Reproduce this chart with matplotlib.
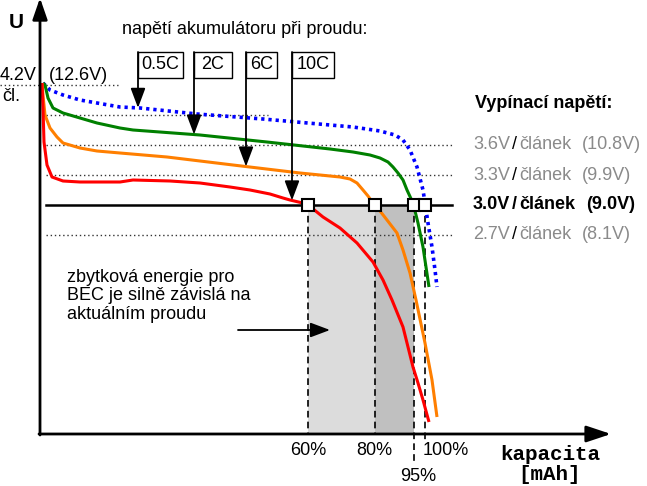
import numpy as np
import matplotlib
matplotlib.use("Agg")
import matplotlib.pyplot as plt
from matplotlib.patches import Rectangle

plt.rcParams['font.family'] = ['Liberation Sans', 'DejaVu Sans']

# schematic capacity position (x) and cell voltage (V)
blue_x = [43, 50, 63, 80, 97, 120, 140, 197, 263, 330, 353, 380, 395, 403, 410, 417, 423, 425, 428, 432, 435, 437]
blue_v = [4.22, 4.15, 4.10, 4.05, 4.02, 3.98, 3.97, 3.91, 3.86, 3.80, 3.78, 3.74, 3.70, 3.65, 3.55, 3.38,
          3.15, 3.02, 2.82, 2.58, 2.35, 2.18]
green_x = [43, 45, 48, 53, 63, 80, 97, 120, 133, 200, 267, 330, 353, 370, 380, 388, 393, 398, 403, 407,
           413, 418, 423, 429]
green_v = [4.22, 4.20, 4.07, 3.97, 3.92, 3.87, 3.82, 3.77, 3.75, 3.70, 3.63, 3.56, 3.53, 3.50, 3.47, 3.43,
           3.38, 3.32, 3.25, 3.15, 3.02, 2.82, 2.58, 2.18]
orange_x = [42, 43, 45, 50, 57, 63, 80, 97, 120, 167, 233, 300, 320, 340, 350, 357, 363, 368, 373, 380,
            387, 397, 403, 410, 416, 425, 432, 437]
orange_v = [4.22, 4.10, 3.90, 3.77, 3.68, 3.62, 3.57, 3.54, 3.52, 3.48, 3.40, 3.32, 3.30, 3.28, 3.26, 3.22,
            3.15, 3.09, 3.02, 2.94, 2.85, 2.72, 2.55, 2.32, 2.05, 1.62, 1.25, 0.88]
red_x = [42, 43, 44, 47, 52, 63, 80, 97, 120, 133, 170, 200, 230, 250, 270, 283, 290, 307, 323, 340, 357,
         373, 383, 392, 403, 408, 413, 418, 423, 429]
red_v = [4.22, 3.97, 3.63, 3.40, 3.28, 3.24, 3.23, 3.23, 3.23, 3.25, 3.24, 3.22, 3.18, 3.15, 3.11, 3.07,
         3.05, 3.01, 2.88, 2.77, 2.62, 2.43, 2.25, 2.05, 1.78, 1.58, 1.38, 1.22, 1.05, 0.83]

rates = ['0.5C', '2C', '6C', '10C']
rate_arrow_x = [138, 194, 246, 292]
cutoff_v = [3.6, 3.3, 3.0, 2.7]
cutoff_pack = ['(10.8V)', '(9.9V)', '(9.0V)', '(8.1V)']
pct_labels = ['60%', '80%', '95%', '100%']

curves = [(blue_x, blue_v, '#0000ff'), (green_x, green_v, '#008000'),
          (orange_x, orange_v, '#ff7f00'), (red_x, red_v, '#ff0000')]

fig = plt.figure(figsize=(6.47, 4.86), dpi=100)
ax = fig.add_axes([0, 0, 1, 1])
ax.set_xlim(0, 647)
ax.set_ylim(0.19, 5.05)
ax.axis('off')

gray = '#8a8a8a'
dot = (0, (1, 2))
fs = 13


def cross_x(xs, vs, level=3.0):
    # x where a falling curve passes the cut-off voltage
    return float(np.interp(-level, -np.array(vs), xs))


cross = [cross_x(x, v) for x, v, c in curves[::-1]]  # red, orange, green, blue

# shaded remaining-energy areas
ax.fill_between([cross[0], cross[1]], 3.0, 0.71, color='#dcdcdc', lw=0, zorder=1)
ax.fill_between([cross[1], cross[2]], 3.0, 0.71, color='#c0c0c0', lw=0, zorder=1)

# horizontal guide lines
ax.plot([0, 118], [4.2, 4.2], color='#333333', lw=1, ls=dot, zorder=2)
ax.plot([46, 268], [3.9, 3.9], color='#333333', lw=1, ls=dot, zorder=2)
for v in [3.6, 3.3, 2.7]:
    ax.plot([46, 452], [v, v], color='#333333', lw=1, ls=dot, zorder=2)
ax.plot([46, 452], [3.0, 3.0], color='black', lw=1.8, zorder=4)

# dashed verticals
ends = [0.71, 0.71, 0.43, 0.62]
for xc, e in zip(cross, ends):
    ax.plot([xc, xc], [3.0, e], color='black', lw=1.2, ls=(0, (4, 2.5)), zorder=3)

# discharge curves
for xs, vs, c in curves:
    if c == '#0000ff':
        ax.plot(xs, vs, color=c, lw=2.6, ls=(0, (0.9, 1.1)), zorder=5)
    else:
        ax.plot(xs, vs, color=c, lw=2.2, zorder=5, solid_capstyle='butt')

ax.plot(cross, [3.0] * 4, ls='none', marker='s', ms=8, mfc='white', mec='black', mew=1.5, zorder=6)

# axes with arrows
ax.annotate('', xy=(611, 0.71), xytext=(39, 0.71), annotation_clip=False,
            arrowprops=dict(arrowstyle='-|>,head_length=1.5,head_width=0.5', color='black', lw=2,
                            shrinkA=0, shrinkB=0), zorder=7)
ax.annotate('', xy=(40, 5.07), xytext=(40, 0.70), annotation_clip=False,
            arrowprops=dict(arrowstyle='-|>,head_length=1.3,head_width=0.45', color='black', lw=2,
                            shrinkA=0, shrinkB=0), zorder=7)

# current boxes with pointer arrows
box_w = [45, 38, 31, 42]
for name, xa, w, (xs, vs, c) in zip(rates, rate_arrow_x, box_w, curves):
    ax.add_patch(Rectangle((xa, 4.27), w, 0.26, fill=True, fc='white', ec='black', lw=1, zorder=7))
    ax.text(xa + w / 2, 4.40, name, ha='center', va='center', fontsize=fs, zorder=8)
    tip = float(np.interp(xa, xs, vs))
    ax.annotate('', xy=(xa, tip), xytext=(xa, 4.53),
                arrowprops=dict(arrowstyle='-|>,head_length=1.2,head_width=0.45', color='black', lw=1.3,
                                shrinkA=0, shrinkB=0), zorder=8)

ax.text(122, 4.75, 'napětí akumulátoru při proudu:', fontsize=fs, va='center')
ax.text(16, 4.82, 'U', fontsize=15, fontweight='bold', ha='center', va='center')
ax.text(0, 4.29, '4.2V', fontsize=fs, ha='left', va='center')
ax.text(49, 4.29, '(12.6V)', fontsize=fs, ha='left', va='center')
ax.text(2, 4.08, 'čl.', fontsize=fs, ha='left', va='center')

# cut-off voltage legend
ax.text(475, 4.01, 'Vypínací napětí:', fontsize=fs, fontweight='bold', va='center')
for v, pack in zip(cutoff_v, cutoff_pack):
    bold = v == 3.0
    col = 'black' if bold else gray
    fw = 'bold' if bold else 'normal'
    t1 = ax.text(473, v, f'{v:.1f}V', fontsize=fs, color=col, fontweight=fw, va='center')
    t2 = ax.annotate('/', xy=(1, 0), xycoords=t1, xytext=(2, 0), textcoords='offset pixels',
                     fontsize=fs, color='black', fontweight=fw, va='bottom')
    t3 = ax.annotate('článek', xy=(1, 0), xycoords=t2, xytext=(2, 0), textcoords='offset pixels',
                     fontsize=fs, color=col, fontweight=fw, va='bottom')
    ax.annotate(pack, xy=(1, 0), xycoords=t3, xytext=(11, 0), textcoords='offset pixels',
                fontsize=fs, color=col, fontweight=fw, va='bottom')

# remaining energy note
ax.text(67, 2.36, 'zbytková energie pro\nBEC je silně závislá na\naktuálním proudu',
        fontsize=fs, va='top', linespacing=1.1)
ax.annotate('', xy=(330, 1.75), xytext=(238, 1.75),
            arrowprops=dict(arrowstyle='-|>,head_length=1.2,head_width=0.45', color='black', lw=1.3,
                            shrinkA=0, shrinkB=0), zorder=8)

# capacity labels
ax.text(cross[0], 0.55, pct_labels[0], fontsize=fs, ha='center', va='center')
ax.text(cross[1], 0.55, pct_labels[1], fontsize=fs, ha='center', va='center')
ax.text(cross[2] + 5, 0.29, pct_labels[2], fontsize=fs, ha='center', va='center')
ax.text(cross[3] - 3, 0.55, pct_labels[3], fontsize=fs, ha='left', va='center')
ax.text(550, 0.51, 'kapacita', fontsize=15, fontweight='bold', family='Liberation Mono',
        ha='center', va='center')
ax.text(550, 0.31, '[mAh]', fontsize=15, fontweight='bold', family='Liberation Mono',
        ha='center', va='center')

fig.savefig('out.png', dpi=100)
